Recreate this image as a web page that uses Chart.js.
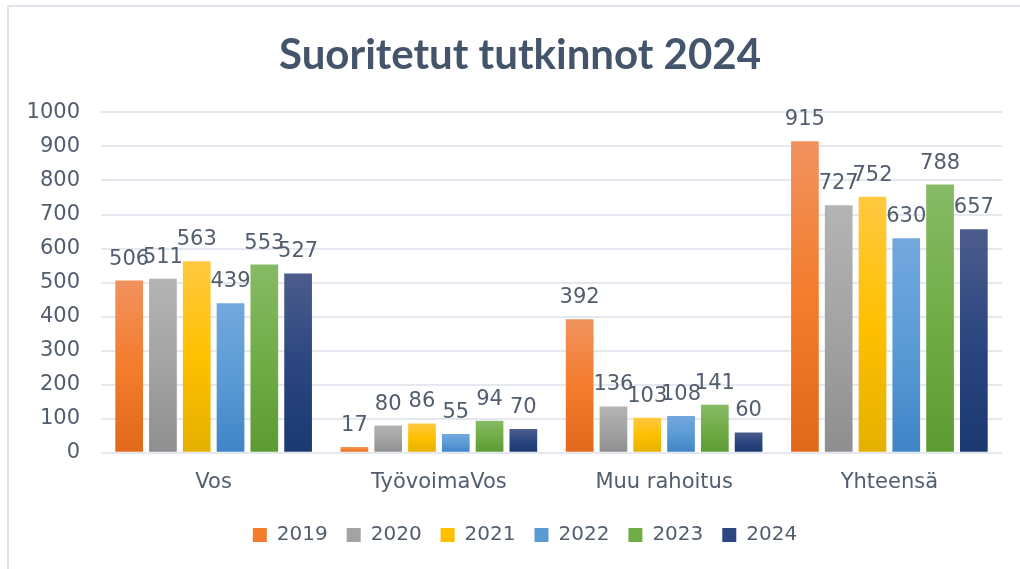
<!DOCTYPE html>
<html>
<head>
<meta charset="utf-8">
<script src="https://cdn.jsdelivr.net/npm/chart.js@4.4.1/dist/chart.umd.min.js"></script>
<style>
  html, body { margin: 0; padding: 0; background: #ffffff; }
  #wrap { position: relative; width: 1020px; height: 569px; overflow: hidden; }
  #frame { position: absolute; left: 7px; top: 5px; width: 1100px; height: 700px;
           border-left: 2px solid #dfe3ea; border-top: 2px solid #dfe3ea; }
  canvas { position: absolute; left: 0; top: 0; }
</style>
</head>
<body>
<div id="wrap">
  <div id="frame"></div>
  <canvas id="c" width="1020" height="569"></canvas>
</div>
<script>
// ---- data ----
const categories = ["Vos", "TyövoimaVos", "Muu rahoitus", "Yhteensä"];
const seriesNames = ["2019", "2020", "2021", "2022", "2023", "2024"];
const values2019 = [506, 17, 392, 915];
const values2020 = [511, 80, 136, 727];
const values2021 = [563, 86, 103, 752];
const values2022 = [439, 55, 108, 630];
const values2023 = [553, 94, 141, 788];
const values2024 = [527, 70, 60, 657];
const yTicks = [0, 100, 200, 300, 400, 500, 600, 700, 800, 900, 1000];
const titleText = "Suoritetut tutkinnot 2024";

// ---- styles ----
const palette = [
  { top: "#f1925e", mid: "#f47c2c", bot: "#e1681b" },
  { top: "#b4b4b4", mid: "#a3a3a3", bot: "#8e8e8e" },
  { top: "#ffc940", mid: "#ffc000", bot: "#e4b000" },
  { top: "#73a8de", mid: "#5b9bd5", bot: "#3f84c7" },
  { top: "#87ba66", mid: "#70ad47", bot: "#5c9a34" },
  { top: "#4c5c8c", mid: "#2b4680", bot: "#1b3870" }
];
const textColor = "#525d6d";
const allValues = [values2019, values2020, values2021, values2022, values2023, values2024];

function gradientFor(c) {
  return (ctx) => {
    const chart = ctx.chart;
    if (ctx.type !== "data" || !chart.chartArea || !chart.scales.y) return c.mid;
    const y = chart.scales.y;
    const yTop = y.getPixelForValue(ctx.raw);
    const yBot = y.getPixelForValue(0);
    if (!(yBot > yTop + 0.5)) return c.mid;
    const g = chart.ctx.createLinearGradient(0, yTop, 0, yBot);
    g.addColorStop(0, c.top);
    g.addColorStop(0.5, c.mid);
    g.addColorStop(1, c.bot);
    return g;
  };
}

const datasets = seriesNames.map((name, i) => ({
  label: name,
  data: allValues[i],
  backgroundColor: gradientFor(palette[i]),
  borderWidth: 0,
  categoryPercentage: 0.9,
  barPercentage: 0.82
}));

const valueLabels = {
  id: "valueLabels",
  afterLayout(chart) {
    // shift title and legend horizontally to match the reference centring
    if (chart.legend) chart.legend.left += 48;
    if (chart.titleBlock) chart.titleBlock.left += 38;
  },
  afterDatasetsDraw(chart) {
    const g = chart.ctx;
    g.save();
    g.font = "21px 'DejaVu Sans'";
    g.fillStyle = textColor;
    g.textAlign = "center";
    g.textBaseline = "bottom";
    chart.data.datasets.forEach((ds, di) => {
      const meta = chart.getDatasetMeta(di);
      meta.data.forEach((el, j) => {
        g.fillText(String(ds.data[j]), el.x, el.y - 11);
      });
    });
    g.restore();
  }
};

new Chart(document.getElementById("c"), {
  type: "bar",
  data: { labels: categories, datasets },
  plugins: [valueLabels],
  options: {
    responsive: false,
    animation: false,
    devicePixelRatio: 1,
    layout: { padding: { left: 0, right: 18, top: 0, bottom: 14 } },
    plugins: {
      tooltip: { enabled: false },
      title: {
        display: true,
        text: titleText,
        color: "#44546a",
        font: { family: "Lato", weight: "bold", size: 42 },
        padding: { top: 30, bottom: 32 }
      },
      legend: {
        position: "bottom",
        labels: {
          color: textColor,
          font: { family: "DejaVu Sans", size: 20 },
          boxWidth: 14,
          boxHeight: 14,
          padding: 19,
          generateLabels(chart) {
            return chart.data.datasets.map((ds, i) => ({
              text: ds.label,
              fillStyle: palette[i].mid,
              strokeStyle: palette[i].mid,
              lineWidth: 0,
              hidden: false,
              datasetIndex: i,
              fontColor: textColor
            }));
          }
        }
      }
    },
    scales: {
      x: {
        grid: { display: false, drawTicks: false },
        border: { display: false },
        ticks: {
          color: textColor,
          font: { family: "DejaVu Sans", size: 21 },
          padding: 17
        },
        afterFit(scale) { scale.height -= 6; }
      },
      y: {
        min: 0,
        max: 1000,
        afterBuildTicks(scale) { scale.ticks = yTicks.map(v => ({ value: v })); },
        grid: { color: "#e5e8ee", lineWidth: 2, drawTicks: false },
        border: { display: false },
        ticks: {
          color: textColor,
          font: { family: "DejaVu Sans", size: 21 },
          padding: 21,
          callback: (v) => String(v)
        },
        afterFit(scale) { scale.width = 101; }
      }
    }
  }
});
</script>
</body>
</html>
